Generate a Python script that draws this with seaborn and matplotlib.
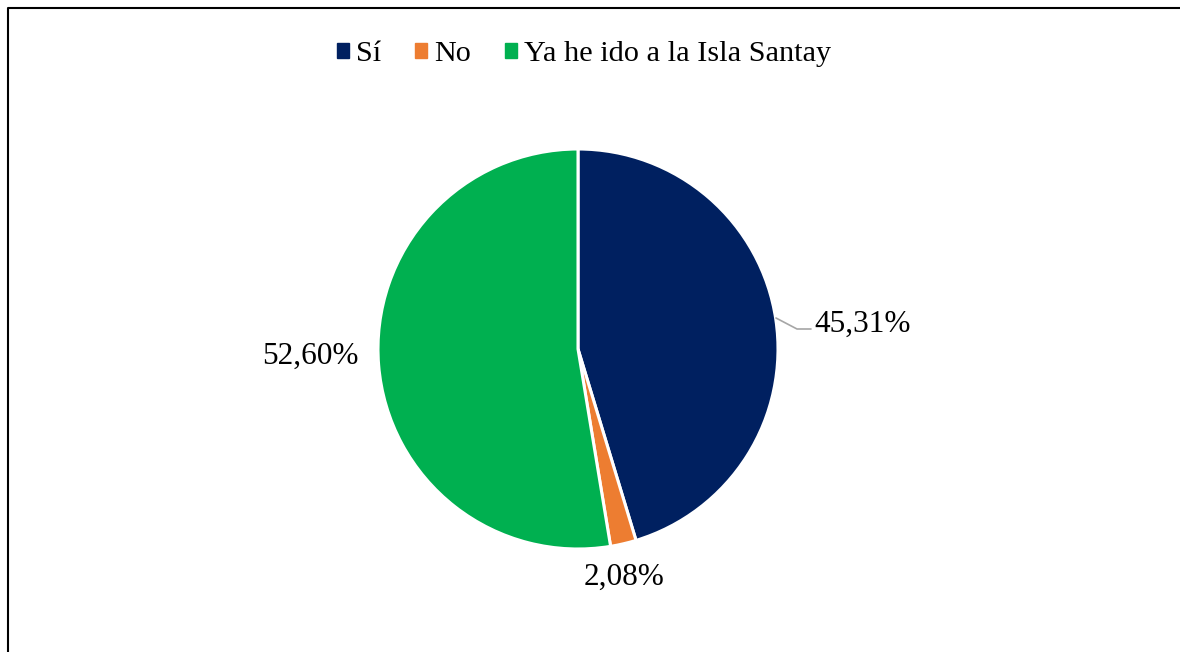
import matplotlib
matplotlib.use("Agg")
import matplotlib.pyplot as plt
import seaborn as sns
import numpy as np

categories = ["Sí", "No", "Ya he ido a la Isla Santay"]
shares = [45.31, 2.08, 52.60]
colors = ["#002060", "#ED7D31", "#00B050"]

sns.set_theme(style="white")
plt.rcParams["font.family"] = ["Liberation Serif", "DejaVu Serif"]
plt.rcParams["text.color"] = "black"

W, H = 1180, 652
fig = plt.figure(figsize=(W / 100, H / 100), dpi=100)
ax = fig.add_axes([0, 0, 1, 1])

cx, cy, r = 578, H - 349, 200
wedges, _ = ax.pie(shares, colors=colors, startangle=90, counterclock=False,
                   center=(cx, cy), radius=r, frame=True,
                   wedgeprops=dict(edgecolor="white", linewidth=2.2))
ax.set_xlim(0, W)
ax.set_ylim(0, H)
ax.set_aspect("equal")
ax.axis("off")

def fmt(v):
    return f"{v:.2f}%".replace(".", ",")

# label placement: (x, y in pixels from top, ha)
label_pos = [(814, 324, "left"), (624, 577, "center"), (359, 356, "right")]
for val, (lx, ly, ha) in zip(shares, label_pos):
    ax.text(lx, H - ly, fmt(val), ha=ha, va="center", fontsize=22.5, color="black")

# leader line for the first slice
ax.plot([776, 797, 811], [H - 318, H - 329, H - 329], color="#A6A6A6", lw=1.2)

# legend
handles = [plt.Rectangle((0, 0), 1, 1, color=c) for c in colors]
leg = fig.legend(handles, categories, loc="center", bbox_to_anchor=(584 / W, 1 - 54 / H),
                 ncol=3, frameon=False, fontsize=21.8, handlelength=0.4,
                 handleheight=0.4, handletextpad=0.25, columnspacing=1.1,
                 borderpad=0, borderaxespad=0)
for t in leg.get_texts():
    t.set_color("black")

# chart border (left and top edges)
ax.plot([8, 8, W], [0, H - 8, H - 8], color="black", lw=1.5, clip_on=False)

fig.savefig("out.png", dpi=100, facecolor="white")
